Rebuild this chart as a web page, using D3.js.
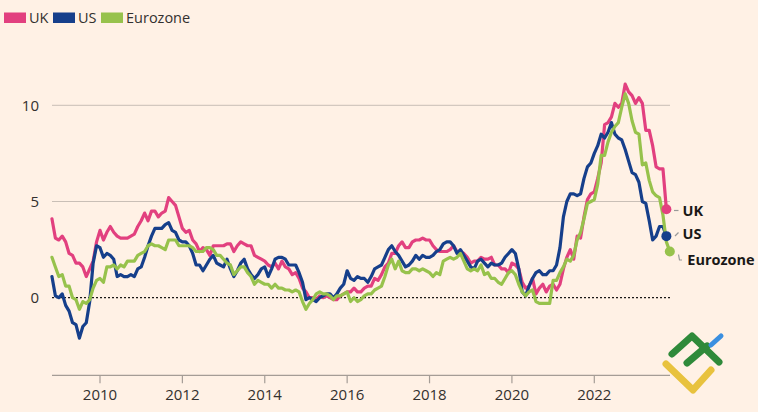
<!DOCTYPE html>
<html><head><meta charset="utf-8">
<script src="https://cdn.jsdelivr.net/npm/d3@7"></script>
<style>
html,body{margin:0;padding:0;background:#fff1e5;}
svg{display:block;}
</style></head>
<body>
<svg id="c" width="758" height="412"></svg>
<script>
// ---- data: annual CPI inflation (%), monthly, starting Nov 2008 ----
const startYear = 2008, startMonth = 11;
const seriesNames = ["UK", "US", "Eurozone"];
const uk = [4.1,3.1,
3.0,3.2,2.9,2.3,2.2,1.8,1.8,1.6,1.1,1.5,1.9,2.9,
3.5,3.0,3.4,3.7,3.4,3.2,3.1,3.1,3.1,3.2,3.3,3.7,
4.0,4.4,4.0,4.5,4.5,4.2,4.4,4.5,5.2,5.0,4.8,4.2,
3.6,3.4,3.5,3.0,2.8,2.4,2.6,2.5,2.2,2.7,2.7,2.7,
2.7,2.8,2.8,2.4,2.7,2.9,2.8,2.7,2.7,2.2,2.1,2.0,
1.9,1.7,1.6,1.8,1.5,1.9,1.6,1.5,1.2,1.3,1.0,0.5,
0.3,0.0,0.0,-0.1,0.1,0.0,0.1,0.0,-0.1,-0.1,0.1,0.2,
0.3,0.3,0.5,0.3,0.3,0.5,0.6,0.6,1.0,0.9,1.2,1.6,
1.8,2.3,2.3,2.7,2.9,2.6,2.6,2.9,3.0,3.0,3.1,3.0,
3.0,2.7,2.5,2.4,2.4,2.4,2.5,2.7,2.4,2.4,2.3,2.1,
1.8,1.9,1.9,2.1,2.0,2.0,2.1,1.7,1.7,1.5,1.5,1.3,
1.8,1.7,1.5,0.8,0.5,0.6,1.0,0.2,0.5,0.7,0.3,0.6,
0.7,0.4,0.7,1.5,2.1,2.5,2.0,3.2,3.1,4.2,5.1,5.4,
5.5,6.2,7.0,9.0,9.1,9.4,10.1,9.9,10.1,11.1,10.7,10.5,
10.1,10.4,10.1,8.7,8.7,7.9,6.8,6.7,6.7,4.6];
const us = [1.1,0.1,
0.0,0.2,-0.4,-0.7,-1.3,-1.4,-2.1,-1.5,-1.3,-0.2,1.8,2.7,
2.6,2.1,2.3,2.2,2.0,1.1,1.2,1.1,1.1,1.2,1.1,1.5,
1.6,2.1,2.7,3.2,3.6,3.6,3.6,3.8,3.9,3.5,3.4,3.0,
2.9,2.9,2.7,2.3,1.7,1.7,1.4,1.7,2.0,2.2,1.8,1.7,
1.6,2.0,1.5,1.1,1.4,1.8,2.0,1.5,1.2,1.0,1.2,1.5,
1.6,1.1,1.5,2.0,2.1,2.1,2.0,1.7,1.7,1.7,1.3,0.8,
-0.1,0.0,-0.1,-0.2,0.0,0.1,0.2,0.2,0.0,0.2,0.5,0.7,
1.4,1.0,0.9,1.1,1.0,1.0,0.8,1.1,1.5,1.6,1.7,2.1,
2.5,2.7,2.4,2.2,1.9,1.6,1.7,1.9,2.2,2.0,2.2,2.1,
2.1,2.2,2.4,2.5,2.8,2.9,2.9,2.7,2.3,2.5,2.2,1.9,
1.6,1.5,1.9,2.0,1.8,1.6,1.8,1.7,1.7,1.8,2.1,2.3,
2.5,2.3,1.5,0.3,0.1,0.6,1.0,1.3,1.4,1.2,1.2,1.4,
1.4,1.7,2.6,4.2,5.0,5.4,5.4,5.3,5.4,6.2,6.8,7.0,
7.5,7.9,8.5,8.3,8.6,9.1,8.5,8.3,8.2,7.7,7.1,6.5,
6.4,6.0,5.0,4.9,4.0,3.0,3.2,3.7,3.7,3.2];
const ez = [2.1,1.6,
1.1,1.2,0.6,0.6,0.0,-0.1,-0.6,-0.2,-0.3,-0.1,0.5,0.9,
1.0,0.8,1.6,1.6,1.7,1.5,1.7,1.6,1.9,1.9,1.9,2.2,
2.3,2.4,2.7,2.8,2.7,2.7,2.6,2.5,3.0,3.0,3.0,2.7,
2.7,2.7,2.7,2.6,2.4,2.4,2.4,2.6,2.6,2.5,2.2,2.2,
2.0,1.8,1.7,1.2,1.4,1.6,1.6,1.3,1.1,0.7,0.9,0.8,
0.7,0.7,0.5,0.7,0.5,0.5,0.4,0.4,0.3,0.4,0.3,-0.2,
-0.6,-0.3,-0.1,0.2,0.3,0.2,0.2,0.1,-0.1,0.1,0.1,0.2,
0.3,-0.2,0.0,-0.2,-0.1,0.1,0.2,0.2,0.4,0.5,0.6,1.1,
1.7,2.0,1.5,1.9,1.4,1.3,1.3,1.5,1.5,1.4,1.5,1.4,
1.3,1.1,1.3,1.2,1.9,2.0,2.1,2.0,2.1,2.3,1.9,1.5,
1.4,1.5,1.4,1.7,1.2,1.3,1.0,1.0,0.8,0.7,1.0,1.3,
1.4,1.2,0.7,0.3,0.1,0.3,0.4,-0.2,-0.3,-0.3,-0.3,-0.3,
0.9,0.9,1.3,1.6,2.0,1.9,2.2,3.0,3.4,4.1,4.9,5.0,
5.1,5.9,7.4,7.4,8.1,8.6,8.9,9.1,9.9,10.6,10.1,9.2,
8.6,8.5,6.9,7.0,6.1,5.5,5.3,5.2,4.3,2.9,2.4];
const yTicks = [0, 5, 10];
const xTicks = [2010, 2012, 2014, 2016, 2018, 2020, 2022];

const colors = {UK:"#e2407f", US:"#163f8b", Eurozone:"#97c24c"};
const svg = d3.select("#c");
svg.append("rect").attr("width",758).attr("height",412).attr("fill","#fff1e5");

const x = d3.scaleLinear().domain([2010, 2022]).range([100, 594.3]);
const y = d3.scaleLinear().domain([0, 10]).range([297.7, 105.3]);
const t = i => startYear + (startMonth - 1 + i) / 12;
const plotL = 52, plotR = 670;

// gridlines
const g = svg.append("g");
yTicks.forEach(v => {
  g.append("line").attr("x1", plotL).attr("x2", plotR).attr("y1", y(v)).attr("y2", y(v))
    .attr("stroke", v === 0 ? "#1a1817" : "#c9bfb6")
    .attr("stroke-width", v === 0 ? 1.3 : 1)
    .attr("stroke-dasharray", v === 0 ? "2,2" : null);
  g.append("text").attr("x", 39).attr("y", y(v)).attr("dy", "0.36em")
    .attr("text-anchor", "end").attr("font-family", "Open Sans, sans-serif")
    .attr("font-size", 15).attr("fill", "#33302e").text(v);
});

// x axis
const ax = svg.append("g").attr("transform", "translate(0,375.3)");
ax.append("line").attr("x1", plotL).attr("x2", plotR).attr("stroke", "#a59d96").attr("stroke-width", 1.2);
xTicks.forEach(v => {
  ax.append("line").attr("x1", x(v)).attr("x2", x(v)).attr("y1", 0).attr("y2", 8)
    .attr("stroke", "#a59d96").attr("stroke-width", 1.2);
  ax.append("text").attr("x", x(v)).attr("y", 25).attr("text-anchor", "middle")
    .attr("font-family", "Open Sans, sans-serif").attr("font-size", 15)
    .attr("fill", "#33302e").text(v);
});

// lines
const line = d3.line().x((d, i) => x(t(i))).y(d => y(d));
const data = {UK: uk, US: us, Eurozone: ez};
seriesNames.forEach(n => {
  svg.append("path").datum(data[n]).attr("d", line).attr("fill", "none")
    .attr("stroke", colors[n]).attr("stroke-width", 3.2)
    .attr("stroke-linejoin", "round").attr("stroke-linecap", "round");
});

// end dots + labels
const labY = {UK: 210.7, US: 233.5, Eurozone: 259.3};
const labX = {UK: 682.5, US: 682.5, Eurozone: 687.3};
seriesNames.forEach(n => {
  const arr = data[n], i = arr.length - 1;
  const cx = x(t(i)), cy = y(arr[i]);
  svg.append("circle").attr("cx", cx).attr("cy", cy).attr("r", 5).attr("fill", colors[n]);
  svg.append("text").attr("x", labX[n]).attr("y", labY[n]).attr("dy", "0.36em")
    .attr("font-family", "Open Sans, sans-serif").attr("font-weight", 700)
    .attr("font-size", 14.5).attr("fill", "#1a1817").text(n);
});
// leaders
svg.append("line").attr("x1", 674).attr("x2", 678.5).attr("y1", 210.5).attr("y2", 210.5).attr("stroke", "#999").attr("stroke-width", 1.2);
svg.append("line").attr("x1", 675).attr("x2", 678.5).attr("y1", 236).attr("y2", 232.5).attr("stroke", "#999").attr("stroke-width", 1.2);
svg.append("path").attr("d", "M678.5,254.5 L679.5,260 L682,260").attr("fill", "none").attr("stroke", "#999").attr("stroke-width", 1.2);

// legend
const leg = svg.append("g");
const legX = [4, 53, 101];
seriesNames.forEach((n, k) => {
  leg.append("rect").attr("x", legX[k]).attr("y", 12.5).attr("width", 22).attr("height", 10.5).attr("fill", colors[n]);
  leg.append("text").attr("x", legX[k] + 25).attr("y", 18).attr("dy", "0.36em")
    .attr("font-family", "Open Sans, sans-serif").attr("font-size", 14.5)
    .attr("fill", "#33302e").text(n);
});

// watermark logo (approximation)
const logo = svg.append("g").attr("fill", "none").attr("stroke-linecap", "round").attr("stroke-linejoin", "round").attr("stroke-width", 7);
logo.append("path").attr("d", "M666,364 L693,390 L711,370").attr("stroke", "#e8c23e");
logo.append("path").attr("d", "M672,354 L692,336 L719,362").attr("stroke", "#2f8a3a");
logo.append("path").attr("d", "M687,363 L707,346").attr("stroke", "#2f8a3a");
logo.append("path").attr("d", "M711,345 L721,336").attr("stroke", "#3b8fe0").attr("stroke-width", 5);
</script>
</body></html>
